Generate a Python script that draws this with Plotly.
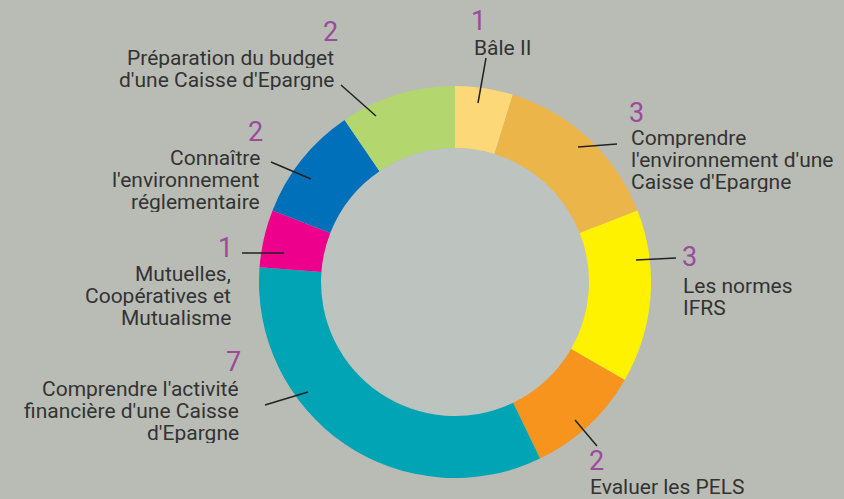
import plotly.graph_objects as go

# ---- data ----
categories = [
    "Bâle II",
    "Comprendre l'environnement d'une Caisse d'Epargne",
    "Les normes IFRS",
    "Evaluer les PELS",
    "Comprendre l'activité financière d'une Caisse d'Epargne",
    "Mutuelles, Coopératives et Mutualisme",
    "Connaître l'environnement réglementaire",
    "Préparation du budget d'une Caisse d'Epargne",
]
values = [1, 3, 3, 2, 7, 1, 2, 2]
label_lines = [
    ["Bâle II"],
    ["Comprendre", "l'environnement d'une", "Caisse d'Epargne"],
    ["Les normes", "IFRS"],
    ["Evaluer les PELS"],
    ["Comprendre l'activité", "financière d'une Caisse", "d'Epargne"],
    ["Mutuelles,", "Coopératives et", "Mutualisme"],
    ["Connaître", "l'environnement", "réglementaire"],
    ["Préparation du budget", "d'une Caisse d'Epargne"],
]

# ---- style ----
colors = ["#FDD878", "#EBB54A", "#FFF200", "#F7941E", "#00A4B4", "#EC008C", "#0070BA", "#B3D66F"]
W, H = 844, 499
BG = "#B9BCB5"
HOLE_BG = "#BDC4C0"
NUM_COLOR = "#9C4A9E"
TXT_COLOR = "#333333"
FONT = "Roboto"

def px(x):
    return x / W

def py(y):
    return 1 - y / H

# label layout: (number x, number y, text anchor x, first line y, align, leader line x0,y0,x1,y1)
layout_pos = [
    (478, 21, 472, 48, "left", (486, 58, 478, 103)),
    (636, 113, 629, 138, "left", (617, 144, 578, 147)),
    (689, 257, 681, 286, "left", (676, 258, 636, 260)),
    (596, 461, 588, 487, "left", (597, 446, 575, 420)),
    (233, 362, 241, 389, "right", (265, 405, 308, 392)),
    (225, 248, 233, 274, "right", (242, 253, 284, 253)),
    (255, 132, 262, 158, "right", (271, 162, 311, 179)),
    (330, 32, 336, 58, "right", (341, 85, 376, 116)),
]

cx, cy, R, r = 455, 282, 196, 134

fig = go.Figure()
fig.add_trace(go.Pie(
    labels=categories,
    values=values,
    sort=False,
    direction="clockwise",
    rotation=0,
    hole=r / R,
    textinfo="none",
    hoverinfo="label+value",
    marker=dict(colors=colors, line=dict(width=0)),
    domain=dict(x=[px(cx - R), px(cx + R)], y=[py(cy + R), py(cy - R)]),
    showlegend=False,
))

annotations = []
shapes = [dict(type="circle", xref="paper", yref="paper", layer="below",
               x0=px(cx - r), x1=px(cx + r), y0=py(cy + r), y1=py(cy - r),
               fillcolor=HOLE_BG, line=dict(width=0))]
line_h = 22
for val, lines, pos in zip(values, label_lines, layout_pos):
    nx, ny, tx, ty, align, ln = pos
    xanchor = "left" if align == "left" else "right"
    annotations.append(dict(
        x=px(nx), y=py(ny), xref="paper", yref="paper", text=str(val),
        showarrow=False, xanchor="center", yanchor="middle", height=22,
        font=dict(family=FONT, size=27, color=NUM_COLOR)))
    for i, t in enumerate(lines):
        annotations.append(dict(
            x=px(tx), y=py(ty + i * line_h), xref="paper", yref="paper", text=t,
            showarrow=False, xanchor=xanchor, yanchor="middle", height=20,
            font=dict(family=FONT, size=21, color=TXT_COLOR)))
    shapes.append(dict(type="line", xref="paper", yref="paper",
                       x0=px(ln[0]), y0=py(ln[1]), x1=px(ln[2]), y1=py(ln[3]),
                       line=dict(color="#222222", width=1.5)))

fig.update_layout(
    width=W, height=H,
    margin=dict(l=0, r=0, t=0, b=0),
    paper_bgcolor=BG, plot_bgcolor=BG,
    annotations=annotations, shapes=shapes,
)
fig.write_html("out.html", config={"displayModeBar": False},
               post_script="document.body.style.margin='0';document.body.style.overflow='hidden';")
